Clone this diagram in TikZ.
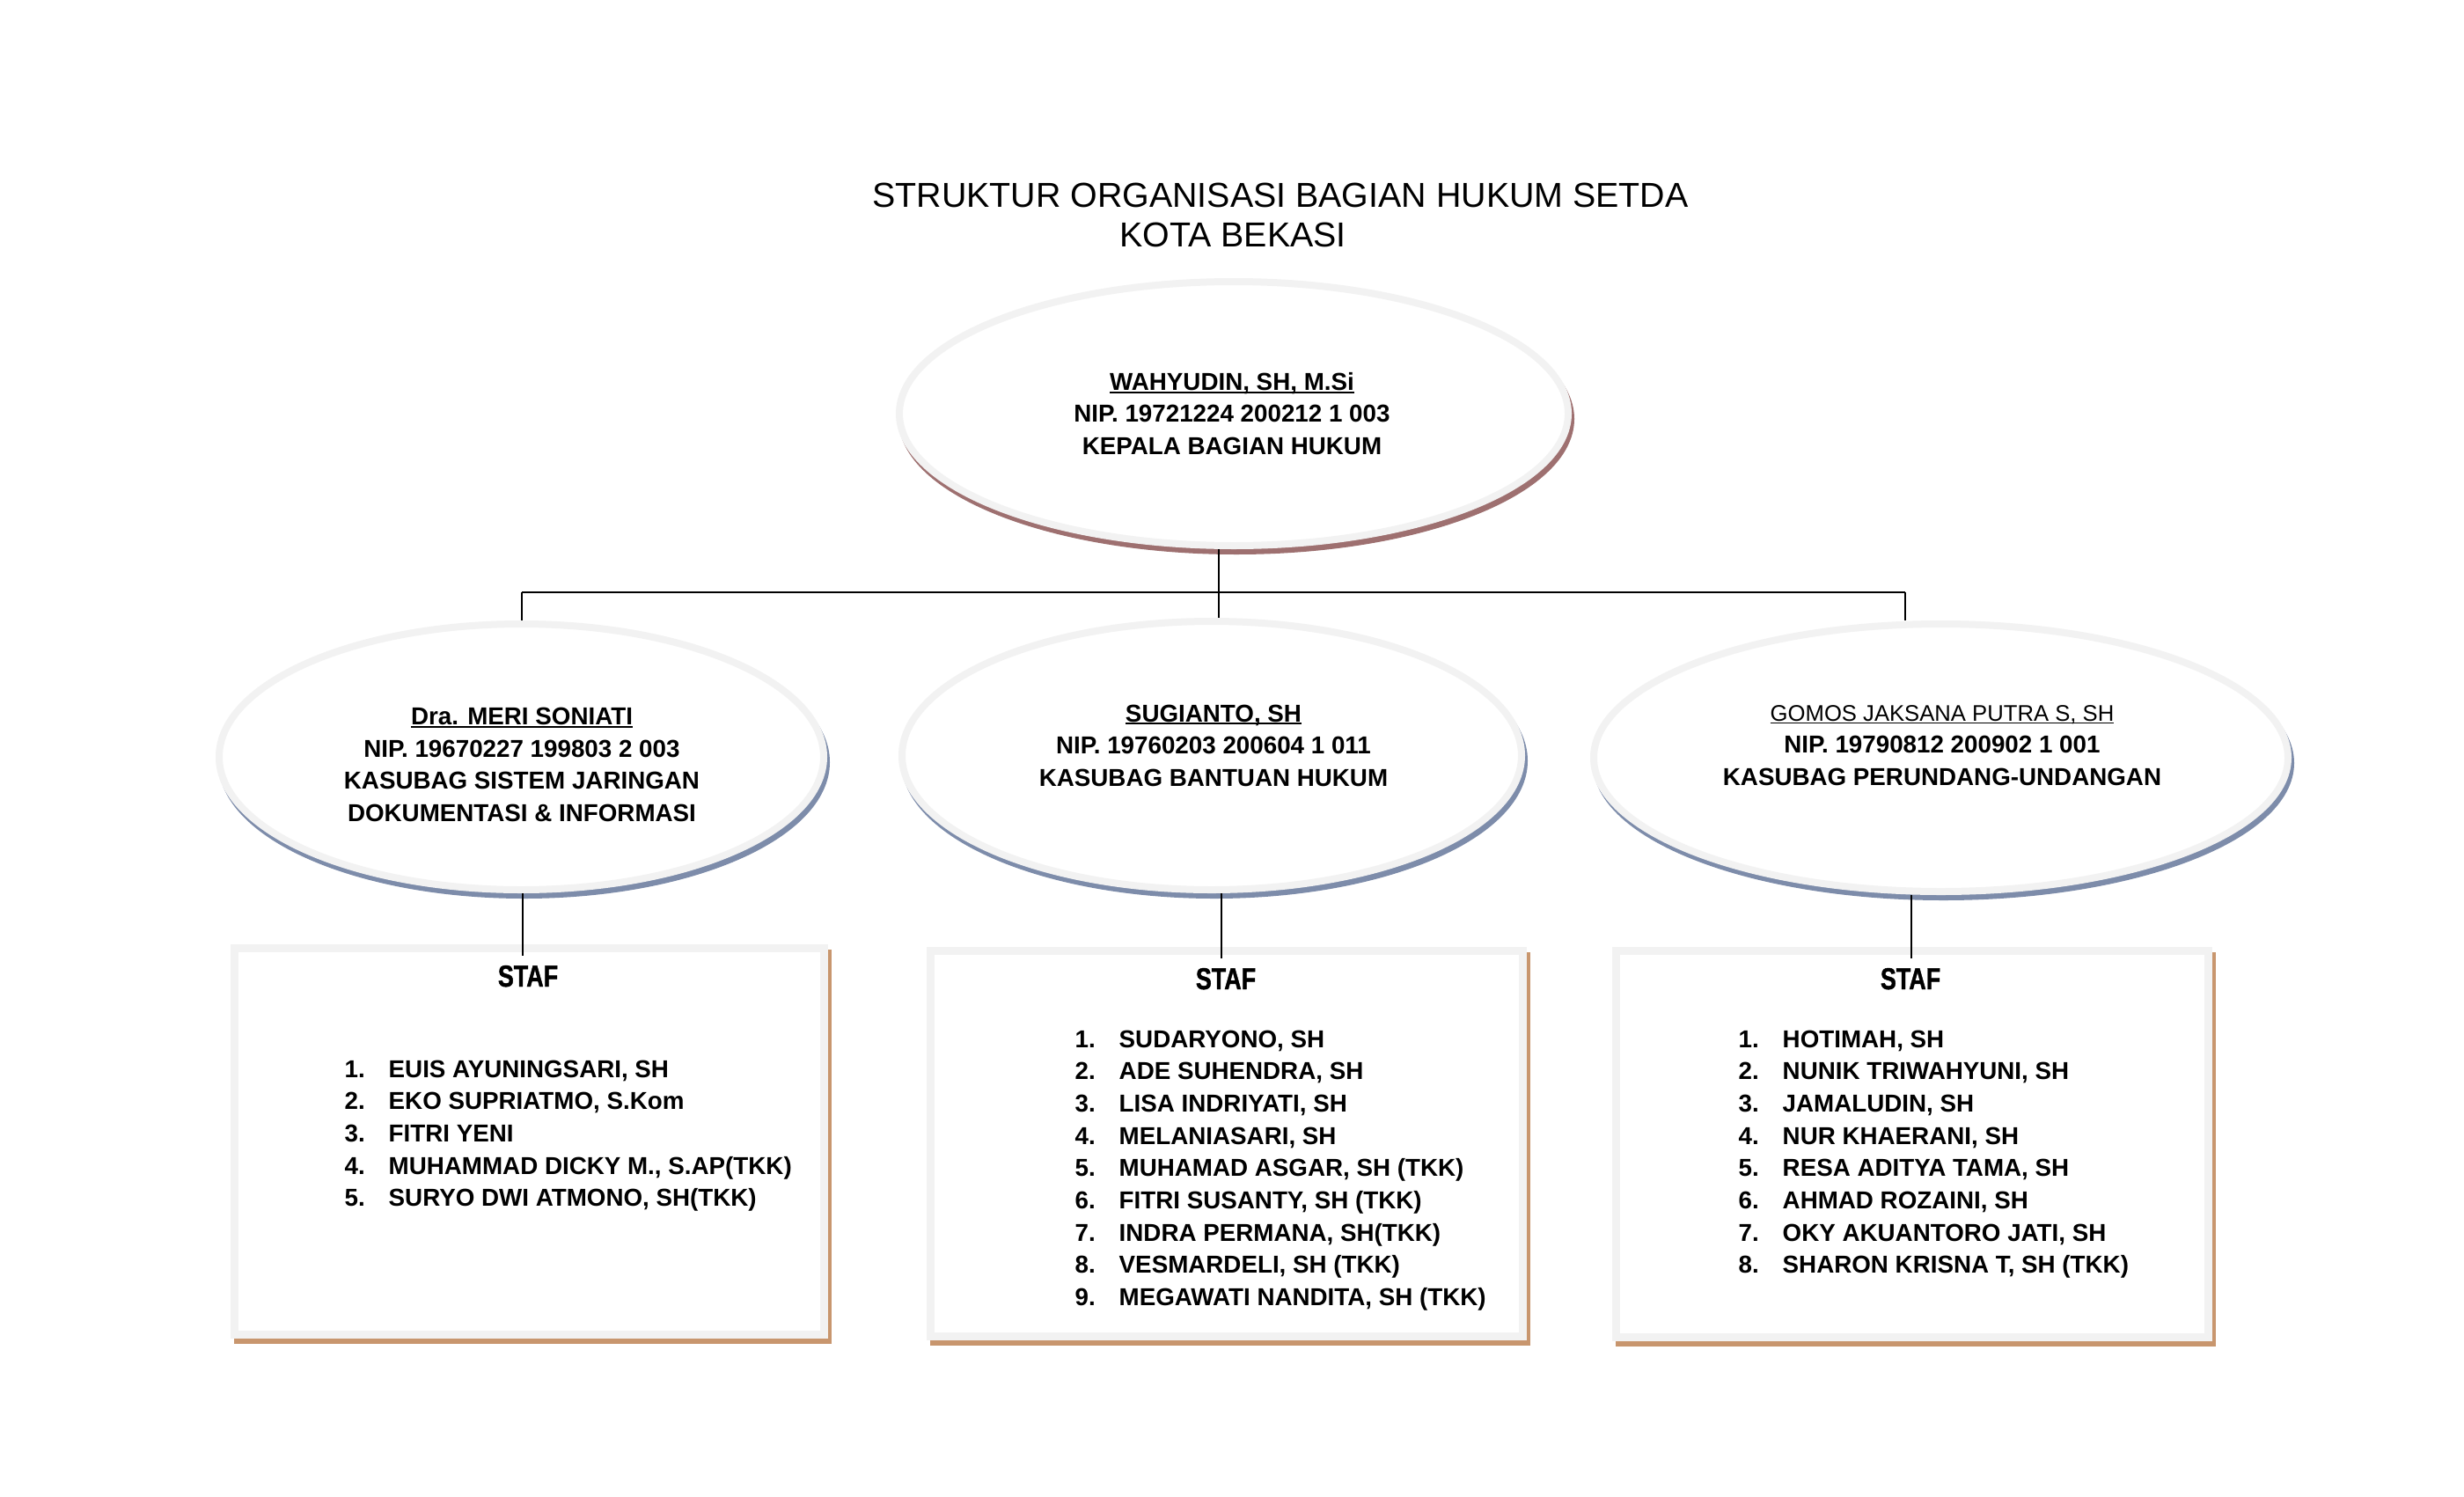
\documentclass[tikz,border=0pt]{standalone}
\usepackage{fontspec}
\setmainfont{Liberation Sans}
\newfontfamily\staffont[FakeStretch=0.78,FakeBold=1.2]{Liberation Sans}
\usetikzlibrary{shapes.geometric,shadows}

\definecolor{abutepi}{RGB}{242,242,242}
\definecolor{bayangmerah}{RGB}{158,112,112}
\definecolor{bayangbiru}{RGB}{125,140,170}
\definecolor{bayangcoklat}{RGB}{200,150,110}

\newcommand{\isi}{\fontsize{7.9pt}{10.4pt}\selectfont\bfseries}
\newcommand{\judul}{\fontsize{11.2pt}{12.8pt}\selectfont}
\newsavebox{\kotaknama}
\newcommand{\garisbawah}[1]{\sbox{\kotaknama}{#1}\rlap{\rule[-0.9pt]{\wd\kotaknama}{0.5pt}}\usebox{\kotaknama}}

\tikzset{
	jabatan/.style={ellipse, draw=abutepi, line width=0.08cm, fill=white, inner sep=0pt},
	bayangkabag/.style={drop shadow={shadow xshift=0.03cm, shadow yshift=-0.06cm, opacity=1, fill=bayangmerah, draw=bayangmerah, line width=0.08cm}},
	bayangkasubag/.style={drop shadow={shadow xshift=0.03cm, shadow yshift=-0.06cm, opacity=1, fill=bayangbiru, draw=bayangbiru, line width=0.08cm}},
	kotak/.style={rectangle, draw=abutepi, line width=0.09cm, fill=white, inner sep=0pt,
		drop shadow={shadow xshift=0.04cm, shadow yshift=-0.06cm, opacity=1, fill=white, draw=bayangcoklat, line width=0.09cm}},
	keterangan/.style={align=center, font=\isi, inner sep=0pt},
	daftar/.style={anchor=base west, font=\isi, inner sep=0pt},
	stafjudul/.style={anchor=base, font=\fontsize{9.8pt}{9.8pt}\staffont\bfseries, inner sep=0pt},
	garis/.style={line width=0.6pt}
}

\begin{document}
\begin{tikzpicture}
		\fill[white] (0,0) rectangle (28,-17);
		\useasboundingbox (0,0) rectangle (28,-17);

		% judul
		\node[anchor=base, font=\judul, inner sep=0pt] (judul) at (14.55,-2.35) {STRUKTUR ORGANISASI BAGIAN HUKUM SETDA};
		\node[anchor=base, font=\judul, inner sep=0pt] (judulkota) at (14.01,-2.80) {KOTA BEKASI};

		% kepala bagian
		\node[jabatan, bayangkabag, minimum width=7.60cm, minimum height=3.00cm] (kabag) at (14.02,-4.70) {};
		\node[keterangan] (teksKabag) at (14.00,-4.70) {\garisbawah{WAHYUDIN, SH, M.Si}\\NIP. 19721224 200212 1 003\\KEPALA BAGIAN HUKUM};

		% kasubag
		\node[jabatan, bayangkasubag, minimum width=6.87cm, minimum height=3.02cm] (kasubagA) at (5.925,-8.60) {};
		\node[jabatan, bayangkasubag, minimum width=7.04cm, minimum height=3.05cm] (kasubagB) at (13.77,-8.585) {};
		\node[jabatan, bayangkasubag, minimum width=7.89cm, minimum height=3.04cm] (kasubagC) at (22.055,-8.61) {};
		\node[keterangan] (teksA) at (5.93,-8.69) {\garisbawah{Dra. MERI SONIATI}\\NIP. 19670227 199803 2 003\\KASUBAG SISTEM JARINGAN\\DOKUMENTASI \& INFORMASI};
		\node[keterangan] (teksB) at (13.79,-8.47) {\garisbawah{SUGIANTO, SH}\\NIP. 19760203 200604 1 011\\KASUBAG BANTUAN HUKUM};
		\node[keterangan] (teksC) at (22.07,-8.47) {{\fontsize{7.3pt}{10.4pt}\selectfont\mdseries\garisbawah{GOMOS JAKSANA PUTRA S, SH}}\\NIP. 19790812 200902 1 001\\KASUBAG PERUNDANG-UNDANGAN};

		% kotak staf
		\node[kotak, minimum width=6.70cm, minimum height=4.39cm] (kotakA) at (6.015,-12.97) {};
		\node[kotak, minimum width=6.73cm, minimum height=4.38cm] (kotakB) at (13.94,-12.995) {};
		\node[kotak, minimum width=6.73cm, minimum height=4.39cm] (kotakC) at (21.73,-13.00) {};

		\node[stafjudul] (stafA) at (6.00,-11.21) {STAF};
		\node[stafjudul] (stafB) at (13.93,-11.24) {STAF};
		\node[stafjudul] (stafC) at (21.71,-11.24) {STAF};

		\foreach \nama [count=\i] in {{EUIS AYUNINGSARI, SH}, {EKO SUPRIATMO, S.Kom}, {FITRI YENI},
			{MUHAMMAD DICKY M., S.AP(TKK)}, {SURYO DWI ATMONO, SH(TKK)}}{
			\node[daftar] (nomorA\i) at (3.91,{-12.24-0.367*(\i-1)}) {\i.};
			\node[daftar] (namaA\i) at (4.41,{-12.24-0.367*(\i-1)}) {\nama};
		}
		\foreach \nama [count=\i] in {{SUDARYONO, SH}, {ADE SUHENDRA, SH}, {LISA INDRIYATI, SH}, {MELANIASARI, SH},
			{MUHAMAD ASGAR, SH (TKK)}, {FITRI SUSANTY, SH (TKK)}, {INDRA PERMANA, SH(TKK)},
			{VESMARDELI, SH (TKK)}, {MEGAWATI NANDITA, SH (TKK)}}{
			\node[daftar] (nomorB\i) at (12.21,{-11.90-0.367*(\i-1)}) {\i.};
			\node[daftar] (namaB\i) at (12.71,{-11.90-0.367*(\i-1)}) {\nama};
		}
		\foreach \nama [count=\i] in {{HOTIMAH, SH}, {NUNIK TRIWAHYUNI, SH}, {JAMALUDIN, SH}, {NUR KHAERANI, SH},
			{RESA ADITYA TAMA, SH}, {AHMAD ROZAINI, SH}, {OKY AKUANTORO JATI, SH}, {SHARON KRISNA T, SH (TKK)}}{
			\node[daftar] (nomorC\i) at (19.75,{-11.90-0.367*(\i-1)}) {\i.};
			\node[daftar] (namaC\i) at (20.25,{-11.90-0.367*(\i-1)}) {\nama};
		}

		% garis penghubung
		\coordinate (simpul) at (13.85,-6.73);
		\coordinate (ujungkiri) at (5.93,-6.73);
		\coordinate (ujungkanan) at (21.65,-6.73);
		\draw[garis] (kabag.south -| simpul) -- (simpul);
		\draw[garis] (ujungkiri) -- (ujungkanan);
		\draw[garis] (ujungkiri) -- (kasubagA.north -| ujungkiri);
		\draw[garis] (simpul) -- (kasubagB.north -| simpul);
		\draw[garis] (ujungkanan) -- (kasubagC.north -| ujungkanan);

		\coordinate (masukA) at (5.94,-10.86);
		\coordinate (masukB) at (13.88,-10.89);
		\coordinate (masukC) at (21.72,-10.89);
		\draw[garis] (kasubagA.south -| masukA) -- (masukA);
		\draw[garis] (kasubagB.south -| masukB) -- (masukB);
		\draw[garis] (kasubagC.south -| masukC) -- (masukC);
	\end{tikzpicture}
\end{document}
